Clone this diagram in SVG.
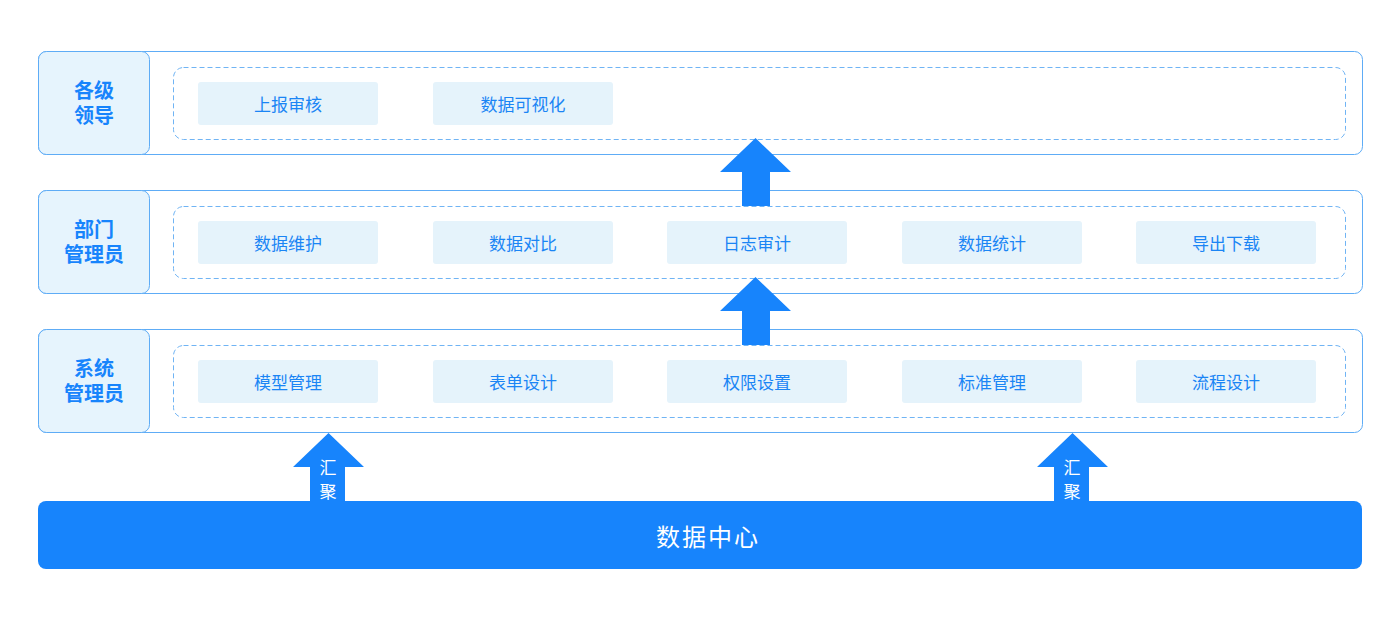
<svg xmlns="http://www.w3.org/2000/svg" width="1400" height="630" viewBox="0 0 1400 630">
<style>
.panel{fill:#ffffff;stroke:#5eacf6;stroke-width:1}
.label{fill:#e6f4fd;stroke:#5eacf6;stroke-width:1}
.inner{fill:none;stroke:#70b4f4;stroke-width:1;stroke-dasharray:5 3}
.item{fill:#e5f3fb}
.lt{font-family:"Noto Sans CJK SC",sans-serif;font-size:20px;font-weight:bold;fill:#1784fc;text-anchor:middle}
.it{font-family:"Noto Sans CJK SC",sans-serif;font-size:17px;fill:#1a85f5;text-anchor:middle}
.arrow{fill:#1784fc}
.at{font-family:"Noto Sans CJK SC",sans-serif;font-size:17px;fill:#ffffff;text-anchor:middle}
.dc{fill:#1784fc}
.dt{font-family:"Noto Sans CJK SC",sans-serif;font-size:24px;fill:#ffffff;text-anchor:middle;letter-spacing:2px}
</style>
<rect width="1400" height="630" fill="#ffffff"/>

<g id="layer-leaders">
<rect class="panel" x="38.5" y="51.5" width="1324" height="103" rx="8"/>
<rect class="label" x="38.5" y="51.5" width="111" height="103" rx="8"/>
<text class="lt" x="94" y="97.5">各级</text>
<text class="lt" x="94" y="123">领导</text>
<rect class="inner" x="173.5" y="67.5" width="1172" height="72" rx="10"/>
<g id="n-shangbao"><rect class="item" x="198" y="82" width="180" height="43" rx="3"/><text class="it" x="288" y="111">上报审核</text></g>
<g id="n-keshihua"><rect class="item" x="433" y="82" width="180" height="43" rx="3"/><text class="it" x="523" y="111">数据可视化</text></g>
</g>

<g id="layer-dept">
<rect class="panel" x="38.5" y="190.5" width="1324" height="103" rx="8"/>
<rect class="label" x="38.5" y="190.5" width="111" height="103" rx="8"/>
<text class="lt" x="94" y="236.5">部门</text>
<text class="lt" x="94" y="262">管理员</text>
<rect class="inner" x="173.5" y="206.5" width="1172" height="72" rx="10"/>
<g id="n-weihu"><rect class="item" x="198" y="221" width="180" height="43" rx="3"/><text class="it" x="288" y="250">数据维护</text></g>
<g id="n-duibi"><rect class="item" x="433" y="221" width="180" height="43" rx="3"/><text class="it" x="523" y="250">数据对比</text></g>
<g id="n-rizhi"><rect class="item" x="667" y="221" width="180" height="43" rx="3"/><text class="it" x="757" y="250">日志审计</text></g>
<g id="n-tongji"><rect class="item" x="902" y="221" width="180" height="43" rx="3"/><text class="it" x="992" y="250">数据统计</text></g>
<g id="n-daochu"><rect class="item" x="1136" y="221" width="180" height="43" rx="3"/><text class="it" x="1226" y="250">导出下载</text></g>
</g>

<g id="layer-sys">
<rect class="panel" x="38.5" y="329.5" width="1324" height="103" rx="8"/>
<rect class="label" x="38.5" y="329.5" width="111" height="103" rx="8"/>
<text class="lt" x="94" y="375.5">系统</text>
<text class="lt" x="94" y="401">管理员</text>
<rect class="inner" x="173.5" y="345.5" width="1172" height="72" rx="10"/>
<g id="n-moxing"><rect class="item" x="198" y="360" width="180" height="43" rx="3"/><text class="it" x="288" y="389">模型管理</text></g>
<g id="n-biaodan"><rect class="item" x="433" y="360" width="180" height="43" rx="3"/><text class="it" x="523" y="389">表单设计</text></g>
<g id="n-quanxian"><rect class="item" x="667" y="360" width="180" height="43" rx="3"/><text class="it" x="757" y="389">权限设置</text></g>
<g id="n-biaozhun"><rect class="item" x="902" y="360" width="180" height="43" rx="3"/><text class="it" x="992" y="389">标准管理</text></g>
<g id="n-liucheng"><rect class="item" x="1136" y="360" width="180" height="43" rx="3"/><text class="it" x="1226" y="389">流程设计</text></g>
</g>

<g id="data-center">
<rect class="dc" x="38" y="501" width="1324" height="68" rx="8"/>
<text class="dt" x="708" y="546">数据中心</text>
</g>

<g id="connectors">
<polygon class="arrow" points="755.5,138 791,172 770,172 770,206 742,206 742,172 720,172"/>
<polygon class="arrow" points="755.5,277 791,311 770,311 770,345 742,345 742,311 720,311"/>
<polygon class="arrow" points="328.5,433 364,467 345,467 345,502 310,502 310,467 293,467"/>
<text class="at" x="328" y="474">汇</text>
<text class="at" x="328" y="498">聚</text>
<polygon class="arrow" points="1072.5,433 1108,467 1089,467 1089,502 1054,502 1054,467 1037,467"/>
<text class="at" x="1072" y="474">汇</text>
<text class="at" x="1072" y="498">聚</text>
</g>
</svg>
